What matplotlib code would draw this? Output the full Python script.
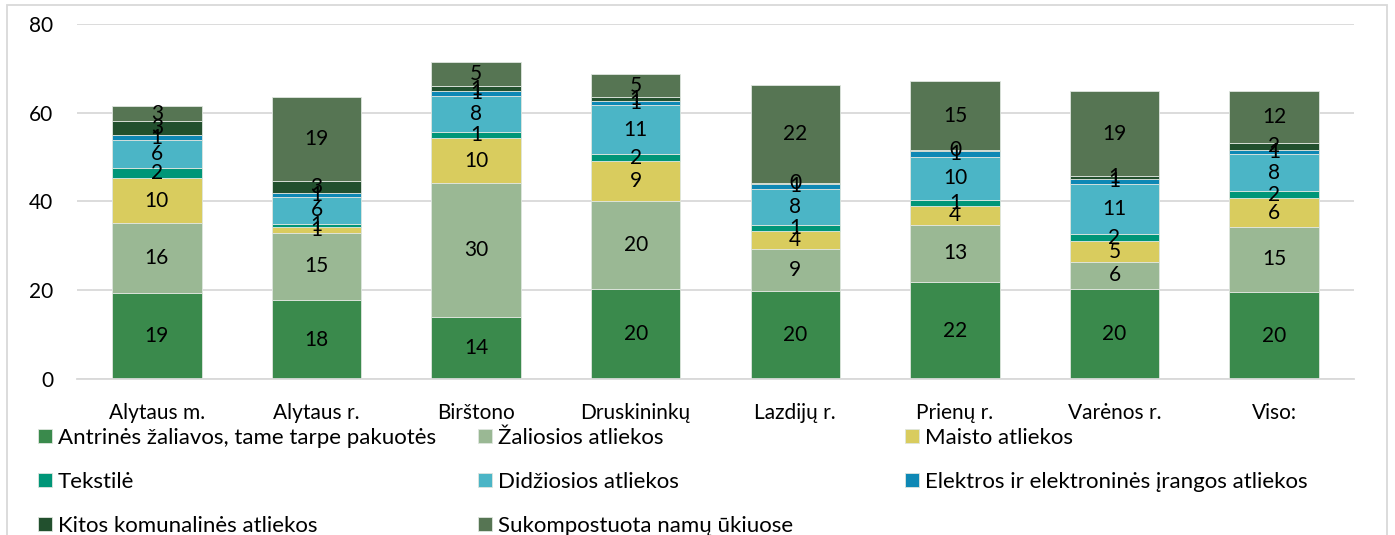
import matplotlib.pyplot as plt
import matplotlib.patches as mpatches
import numpy as np

plt.rcParams['font.family'] = ['Lato', 'DejaVu Sans']

regions = ['Alytaus m.', 'Alytaus r.', 'Birštono', 'Druskininkų',
           'Lazdijų r.', 'Prienų r.', 'Varėnos r.', 'Viso:']

series_names = ['Antrinės žaliavos, tame tarpe pakuotės', 'Žaliosios atliekos',
                'Maisto atliekos', 'Tekstilė', 'Didžiosios atliekos',
                'Elektros ir elektroninės įrangos atliekos',
                'Kitos komunalinės atliekos', 'Sukompostuota namų ūkiuose']

antrines = [19.4, 17.9, 13.9, 20.3, 19.8, 21.9, 20.3, 19.7]
zaliosios = [15.7, 15.0, 30.2, 19.7, 9.4, 12.8, 6.1, 14.6]
maisto = [10.2, 1.4, 10.2, 9.0, 4.2, 4.3, 4.6, 6.4]
tekstile = [2.3, 0.7, 1.3, 1.6, 1.3, 1.3, 1.7, 1.6]
didziosios = [6.2, 6.1, 8.1, 11.1, 8.1, 9.8, 11.3, 8.4]
elektros = [1.1, 0.9, 1.2, 0.9, 1.2, 1.3, 1.1, 0.9]
kitos = [3.1, 2.6, 1.0, 0.8, 0.2, 0.2, 0.6, 1.6]
sukompostuota = [3.4, 18.8, 5.4, 5.3, 21.9, 15.4, 19.1, 11.6]

colors = ['#3a8a4c', '#9ab894', '#d9cc5e', '#009678',
          '#4bb5c6', '#0e88b5', '#22502e', '#567553']

data = [antrines, zaliosios, maisto, tekstile, didziosios, elektros, kitos, sukompostuota]

W, H = 1395, 535
fig = plt.figure(figsize=(W / 100, H / 100), dpi=100)
ax = fig.add_axes([77 / W, 1 - 379.3 / H, (1354 - 77) / W, (379.3 - 23.6) / H])

x = np.arange(len(regions))
bottom = np.zeros(len(regions))
handles = []
for name, vals, col in zip(series_names, data, colors):
    bars = ax.bar(x, vals, 0.56, bottom=bottom, color=col, edgecolor='#dfe6df',
                  linewidth=0.6, label=name)
    ax.bar_label(bars, labels=['%d' % round(v) for v in vals], label_type='center',
                 fontsize=15, color='black')
    bottom += np.array(vals)
    handles.append(bars)

ax.set_xlim(-0.5, len(regions) - 0.5)
ax.set_ylim(0, 80)
ax.set_yticks([0, 20, 40, 60, 80])
ax.yaxis.grid(True, color='#d9d9d9', linewidth=1.3)
ax.set_axisbelow(True)
for s in ['left', 'right', 'top']:
    ax.spines[s].set_visible(False)
ax.spines['bottom'].set_color('#d9d9d9')
ax.spines['bottom'].set_linewidth(1.3)
ax.tick_params(length=0, labelsize=15, colors='black')
ax.tick_params(axis='y', pad=17)
ax.tick_params(axis='x', pad=17)
ax.set_xticks(x)
ax.set_xticklabels(regions)

# chart frame
fig.patches.append(mpatches.Rectangle((7 / W, -0.1), (1386.5 - 7) / W, 1.1 - 5.5 / H,
                                      transform=fig.transFigure, fill=False,
                                      edgecolor='#d9d9d9', linewidth=1.3))

# legend: three evenly spaced columns, filled row by row
columns = [[0, 3, 6], [1, 4, 7], [2, 5]]
col_x = [38, 478, 905]
for idx, cx in zip(columns, col_x):
    leg = fig.legend([handles[i] for i in idx], [series_names[i] for i in idx],
                     loc='upper left', bbox_to_anchor=(cx / W, 1 - 428 / H),
                     frameon=False, fontsize=16, handlelength=0.63, handleheight=0.63,
                     handletextpad=0.25, labelspacing=1.08,
                     borderaxespad=0, borderpad=0)

fig.savefig('out.png', dpi=100)
